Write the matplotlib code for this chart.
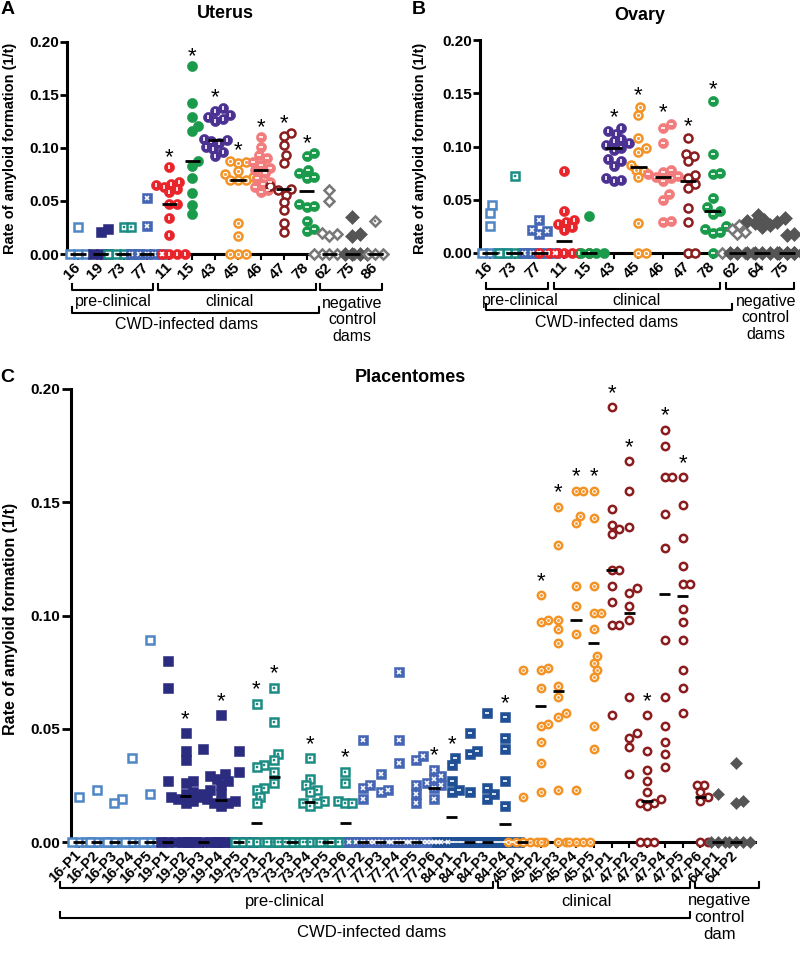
import matplotlib
matplotlib.use("Agg")
import matplotlib.pyplot as plt
import matplotlib.transforms as mtransforms
import numpy as np

plt.rcParams["font.family"] = ["Liberation Sans", "DejaVu Sans"]

# ---------------- data ----------------
uterus_ids = ["16", "19", "73", "77", "11", "15", "43", "45", "46", "47", "78", "62", "75", "86"]
uterus_vals = [
    [0.025, 0, 0, 0],
    [0.024, 0.021, 0, 0, 0],
    [0.025, 0.025, 0, 0, 0, 0, 0],
    [0.053, 0.026, 0, 0, 0, 0, 0],
    [0.082, 0.068, 0.066, 0.065, 0.063, 0.061, 0.058, 0.047, 0.047, 0.034, 0.018, 0, 0, 0, 0],
    [0.177, 0.142, 0.129, 0.121, 0.116, 0.088, 0.083, 0.072, 0.057, 0.046, 0.038],
    [0.138, 0.135, 0.131, 0.129, 0.127, 0.125, 0.108, 0.107, 0.106, 0.105, 0.101, 0.099, 0.096, 0.092],
    [0.088, 0.087, 0.086, 0.078, 0.075, 0.073, 0.070, 0.070, 0.070, 0.029, 0.017, 0, 0, 0],
    [0.110, 0.101, 0.093, 0.090, 0.087, 0.084, 0.081, 0.079, 0.076, 0.072, 0.068, 0.066, 0.063, 0.060, 0.058],
    [0.114, 0.111, 0.103, 0.093, 0.086, 0.064, 0.061, 0.060, 0.056, 0.049, 0.041, 0.029, 0.021],
    [0.095, 0.092, 0.079, 0.076, 0.073, 0.072, 0.047, 0.045, 0.044, 0.031, 0.024, 0.022],
    [0.060, 0.050, 0.020, 0.019, 0.017, 0, 0, 0, 0, 0, 0],
    [0.035, 0.019, 0.017, 0, 0, 0, 0],
    [0.031, 0, 0, 0],
]
uterus_stars = ["11", "15", "43", "45", "46", "47", "78"]

ovary_ids = ["16", "73", "77", "11", "15", "43", "45", "46", "47", "78", "62", "64", "75"]
ovary_vals = [
    [0.045, 0.038, 0.025, 0, 0, 0, 0],
    [0.072, 0, 0, 0, 0, 0],
    [0.031, 0.022, 0.021, 0.018, 0, 0, 0, 0, 0],
    [0.077, 0.039, 0.031, 0.029, 0.027, 0.024, 0.022, 0, 0, 0, 0, 0, 0, 0],
    [0.035, 0, 0, 0, 0],
    [0.117, 0.115, 0.112, 0.107, 0.105, 0.103, 0.101, 0.099, 0.097, 0.088, 0.086, 0.082, 0.070, 0.069, 0.068],
    [0.137, 0.130, 0.108, 0.099, 0.095, 0.083, 0.078, 0.077, 0.071, 0.028, 0, 0],
    [0.121, 0.117, 0.103, 0.078, 0.076, 0.074, 0.072, 0.071, 0.070, 0.068, 0.055, 0.050, 0.030, 0.029],
    [0.108, 0.093, 0.091, 0.086, 0.073, 0.070, 0.065, 0.061, 0.042, 0.029, 0, 0],
    [0.143, 0.093, 0.075, 0.074, 0.052, 0.043, 0.039, 0.037, 0.025, 0.023, 0.020, 0.019, 0],
    [0.026, 0.023, 0.020, 0.018, 0, 0, 0, 0, 0],
    [0.036, 0.033, 0.031, 0.030, 0.029, 0.028, 0.026, 0.024, 0, 0, 0, 0, 0, 0, 0, 0, 0],
    [0.018, 0.017, 0, 0, 0, 0],
]
ovary_stars = ["43", "45", "46", "47", "78"]

placenta_ids = ["16-P1", "16-P2", "16-P3", "16-P4", "16-P5",
                "19-P1", "19-P2", "19-P3", "19-P4", "19-P5",
                "73-P1", "73-P2", "73-P3", "73-P4", "73-P5", "73-P6",
                "77-P2", "77-P3", "77-P4", "77-P5", "77-P6",
                "84-P1", "84-P2", "84-P3", "84-P4",
                "45-P1", "45-P2", "45-P3", "45-P4", "45-P5",
                "47-P1", "47-P2", "47-P3", "47-P4", "47-P5", "47-P6",
                "64-P1", "64-P2"]
placenta_vals = [
    [0.020, 0, 0, 0, 0],
    [0.023, 0, 0, 0, 0],
    [0.019, 0.017, 0, 0, 0, 0],
    [0.037, 0, 0, 0, 0],
    [0.089, 0.021, 0, 0, 0, 0],
    [0.080, 0.068, 0.027, 0, 0, 0, 0],
    [0.048, 0.040, 0.036, 0.027, 0.026, 0.022, 0.021, 0.020, 0.020, 0.019, 0.018, 0.017, 0, 0],
    [0.041, 0.023, 0.021, 0, 0, 0, 0, 0],
    [0.056, 0.030, 0.029, 0.028, 0.027, 0.025, 0.021, 0.019, 0.018, 0.017, 0.017, 0.016, 0, 0, 0, 0],
    [0.040, 0.031, 0, 0, 0, 0],
    [0.061, 0.034, 0.033, 0.024, 0.023, 0.020, 0.017, 0, 0, 0, 0, 0, 0, 0],
    [0.068, 0.053, 0.039, 0.036, 0.031, 0.026, 0, 0, 0, 0],
    [0, 0, 0, 0, 0],
    [0.037, 0.028, 0.025, 0.023, 0.022, 0.018, 0.017, 0.017, 0.016, 0, 0, 0],
    [0, 0, 0, 0],
    [0.031, 0.026, 0.018, 0.017, 0.017, 0, 0, 0, 0, 0],
    [0.045, 0.025, 0.024, 0.019, 0, 0, 0, 0, 0],
    [0.030, 0.023, 0.022, 0, 0, 0, 0],
    [0.075, 0.045, 0.035, 0, 0, 0, 0],
    [0.038, 0.036, 0.025, 0.021, 0.017, 0, 0, 0, 0, 0, 0],
    [0.032, 0.029, 0.028, 0.026, 0.025, 0.024, 0.019, 0, 0, 0, 0],
    [0.037, 0.034, 0.027, 0.023, 0.022, 0, 0, 0, 0, 0],
    [0.048, 0.040, 0.039, 0.022, 0, 0, 0, 0, 0],
    [0.057, 0.024, 0.021, 0.019, 0, 0, 0, 0, 0],
    [0.055, 0.046, 0.041, 0.027, 0.016, 0, 0, 0, 0, 0],
    [0.076, 0.020, 0, 0, 0, 0, 0, 0],
    [0.109, 0.098, 0.097, 0.077, 0.076, 0.068, 0.052, 0.051, 0.044, 0.035, 0.022, 0],
    [0.148, 0.131, 0.098, 0.094, 0.088, 0.069, 0.064, 0.057, 0.055, 0.023, 0, 0],
    [0.155, 0.155, 0.144, 0.141, 0.113, 0.104, 0.092, 0.023, 0, 0, 0, 0],
    [0.155, 0.143, 0.113, 0.101, 0.101, 0.094, 0.082, 0.079, 0.076, 0.073, 0.051, 0.041],
    [0.192, 0.147, 0.140, 0.138, 0.136, 0.120, 0.120, 0.113, 0.106, 0.096, 0.096, 0.056],
    [0.168, 0.155, 0.139, 0.112, 0.110, 0.104, 0.098, 0.064, 0.048, 0.046, 0.042, 0.030],
    [0.056, 0.040, 0.032, 0.027, 0.022, 0.019, 0.017, 0.017, 0.016, 0, 0, 0],
    [0.182, 0.175, 0.161, 0.161, 0.145, 0.130, 0.089, 0.064, 0.051, 0.044, 0.039, 0.033],
    [0.161, 0.149, 0.134, 0.122, 0.114, 0.114, 0.103, 0.097, 0.089, 0.076, 0.068, 0.057],
    [0.025, 0.025, 0.022, 0.020, 0.018, 0, 0],
    [0.021, 0, 0, 0],
    [0.035, 0.018, 0.017, 0, 0, 0, 0],
]
placenta_stars = ["19-P2", "19-P4", "73-P1", "73-P2", "73-P4", "73-P6", "77-P6", "84-P1", "84-P4",
                  "45-P2", "45-P3", "45-P4", "45-P5", "47-P1", "47-P2", "47-P3", "47-P4", "47-P5"]

# marker look for each animal
STYLE = {
    "16": ("open_sq", "#4f86c6"),
    "19": ("fill_sq", "#2b2b80"),
    "73": ("dot_sq", "#1b8c84"),
    "77": ("x_sq", "#4565b5"),
    "84": ("dash_sq", "#1f4f94"),
    "11": ("half_circ", "#e8252b"),
    "15": ("fill_circ", "#1a9a4b"),
    "43": ("half_circ", "#4a3192"),
    "45": ("dot_circ", "#f39325"),
    "46": ("line_circ", "#f27c7c"),
    "47": ("open_circ", "#8c1d1f"),
    "78": ("line_circ", "#1a9a4b"),
    "62": ("open_dia", "#777777"),
    "64": ("fill_dia", "#555555"),
    "75": ("fill_dia", "#555555"),
    "86": ("dot_dia", "#777777"),
}
MARKERS = {
    "open_sq": ("s", False, None), "fill_sq": ("s", True, None), "dot_sq": ("s", False, "s"),
    "x_sq": ("s", True, "x"), "dash_sq": ("s", True, "_"), "half_circ": ("o", True, "|"),
    "fill_circ": ("o", True, None), "dot_circ": ("o", False, "o"), "line_circ": ("o", True, "_"),
    "open_circ": ("o", False, None), "open_dia": ("D", False, None), "fill_dia": ("D", True, None),
    "dot_dia": ("D", False, "s"),
}

W, H = 800, 961
fig = plt.figure(figsize=(8, 9.61), dpi=100)


def px_axes(left, top, right, bottom):
    return fig.add_axes([left / W, 1 - bottom / H, (right - left) / W, (bottom - top) / H])


def swarm(vals, px_x, px_y, diam):
    # simple beeswarm: push points sideways until they do not overlap
    offs = np.zeros(len(vals))
    placed = []
    step = diam * 0.2
    for i in np.argsort(vals, kind="stable"):
        y = vals[i] * px_y
        k = 0
        while True:
            m = (k + 1) // 2 * (1 if k % 2 else -1)
            x = m * step
            if all((x - a) ** 2 + (y - b) ** 2 >= (diam * 0.8) ** 2 for a, b in placed):
                break
            k += 1
        placed.append((x, y))
        offs[i] = x / px_x
    return offs


def draw_points(ax, x, y, style, color, ms):
    mk, filled, inner = MARKERS[style]
    size = ms * 0.95 if mk == "D" else ms
    if filled:
        ax.plot(x, y, ls="none", marker=mk, ms=size + 1.5, mfc=color, mec=color, mew=0.4,
                zorder=3, clip_on=False)
    else:
        ax.plot(x, y, ls="none", marker=mk, ms=size, mfc="white", mec=color, mew=1.8,
                zorder=3, clip_on=False)
    if inner is None:
        return
    ic = "white" if filled else color
    if inner in ("s", "o"):
        ax.plot(x, y, ls="none", marker=inner, ms=ms * 0.32, mfc=ic, mec=ic, mew=0.3,
                zorder=3.1, clip_on=False)
    else:
        ax.plot(x, y, ls="none", marker=inner, ms=ms * 0.55, mec=ic, mew=1.2,
                zorder=3.1, clip_on=False)


def draw_panel(ax, ids, vals, stars, xlim, w_px, h_px, ms, diam, med_half, star_off):
    ax.set_xlim(*xlim)
    ax.set_ylim(0, 0.2)
    px_x = w_px / (xlim[1] - xlim[0])
    px_y = h_px / 0.2
    for i, (name, v) in enumerate(zip(ids, vals)):
        style, color = STYLE[name.split("-")[0]]
        v = np.array(v, float)
        x = i + swarm(v, px_x, px_y, diam)
        draw_points(ax, x, v, style, color, ms)
        med = np.median(v)
        ax.plot([i - med_half, i + med_half], [med, med], color="black", lw=2, zorder=6,
                clip_on=False, solid_capstyle="butt")
        if name in stars:
            ax.annotate("*", (i, v.max()), xytext=(0, star_off), textcoords="offset points",
                        ha="center", va="baseline", fontsize=16)


def style_axes(ax, labels, fs, ylen):
    for s in ["top", "right"]:
        ax.spines[s].set_visible(False)
    ax.spines["left"].set_linewidth(2.2)
    ax.spines["bottom"].set_linewidth(2.2)
    ax.set_yticks([0, 0.05, 0.1, 0.15, 0.2])
    ax.set_yticklabels(["0.00", "0.05", "0.10", "0.15", "0.20"], fontweight="bold", fontsize=11)
    ax.tick_params(axis="y", direction="out", width=2, length=ylen, pad=1)
    ax.set_xticks(range(len(labels)))
    ax.set_xticklabels(labels, rotation=45, ha="right", va="center", rotation_mode="anchor",
                       fontweight="bold", fontsize=fs)
    ax.tick_params(axis="x", direction="out", width=1.5, length=4, pad=4)


def bracket(ax, x0, x1, y, h):
    tr = mtransforms.blended_transform_factory(ax.transData, ax.transAxes)
    ax.plot([x0, x0, x1, x1], [y + h, y, y, y + h], color="black", lw=1.5, transform=tr,
            clip_on=False)


def group_text(ax, x, y, text, fs=11.5):
    tr = mtransforms.blended_transform_factory(ax.transData, ax.transAxes)
    ax.text(x, y, text, transform=tr, ha="center", va="center", fontsize=fs, linespacing=1.15)


# ---------------- panel A ----------------
axA = px_axes(67, 41.7, 387, 254)
draw_panel(axA, uterus_ids, uterus_vals, uterus_stars, (-0.48, 13.52), 320, 212.3, 5.8, 9.5, 0.33, 3)
style_axes(axA, uterus_ids, 11, 5)
bracket(axA, -0.25, 3.3, -0.17, 0.03)
bracket(axA, 3.5, 10.4, -0.17, 0.03)
bracket(axA, 10.6, 13.3, -0.17, 0.03)
bracket(axA, -0.25, 10.55, -0.278, 0.03)
group_text(axA, 1.53, -0.226, "pre-clinical")
group_text(axA, 6.65, -0.226, "clinical")
group_text(axA, 12.0, -0.31, "negative\ncontrol\ndams")
group_text(axA, 4.77, -0.33, "CWD-infected dams")

# ---------------- panel B ----------------
axB = px_axes(480, 40, 798, 253)
draw_panel(axB, ovary_ids, ovary_vals, ovary_stars, (-0.4, 12.45), 318, 213, 5.8, 9.5, 0.33, 4)
style_axes(axB, ovary_ids, 11, 5)
bracket(axB, -0.16, 2.34, -0.169, 0.03)
bracket(axB, 2.59, 9.29, -0.169, 0.03)
bracket(axB, 9.54, 12.3, -0.169, 0.03)
bracket(axB, -0.16, 9.8, -0.268, 0.03)
group_text(axB, 1.21, -0.222, "pre-clinical")
group_text(axB, 5.94, -0.222, "clinical")
group_text(axB, 11.15, -0.305, "negative\ncontrol\ndams")
group_text(axB, 4.73, -0.324, "CWD-infected dams")

# ---------------- panel C ----------------
axC = px_axes(71, 389, 755, 842)
draw_panel(axC, placenta_ids, placenta_vals, placenta_stars, (-0.45, 38.08), 684, 453, 5.3, 9, 0.32, 6)
style_axes(axC, placenta_ids, 10.5, 6.5)
bracket(axC, -1.05, 23.3, -0.102, 0.014)
bracket(axC, 23.6, 34.4, -0.102, 0.014)
bracket(axC, 34.7, 38.3, -0.102, 0.014)
bracket(axC, -1.05, 34.4, -0.168, 0.014)
group_text(axC, 11.6, -0.131, "pre-clinical", 12)
group_text(axC, 28.6, -0.131, "clinical", 12)
group_text(axC, 36.1, -0.167, "negative\ncontrol\ndam", 12)
group_text(axC, 16.5, -0.199, "CWD-infected dams", 12)

# ---------------- titles and labels ----------------
def ftext(x, y, s, **kw):
    fig.text(x / W, 1 - y / H, s, ha="center", va="center", fontweight="bold", **kw)


ftext(8, 9, "A", fontsize=14)
ftext(419, 9, "B", fontsize=14)
ftext(7, 378, "C", fontsize=14)
ftext(225, 13, "Uterus", fontsize=13)
ftext(640, 15, "Ovary", fontsize=13)
ftext(410, 378, "Placentomes", fontsize=13)
ylab = "Rate of amyloid formation (1/t)"
ftext(10, 148, ylab, fontsize=10.5, rotation=90)
ftext(420, 148, ylab, fontsize=10.5, rotation=90)
ftext(11, 619, ylab, fontsize=11.5, rotation=90)

fig.savefig("out.png", dpi=100)
